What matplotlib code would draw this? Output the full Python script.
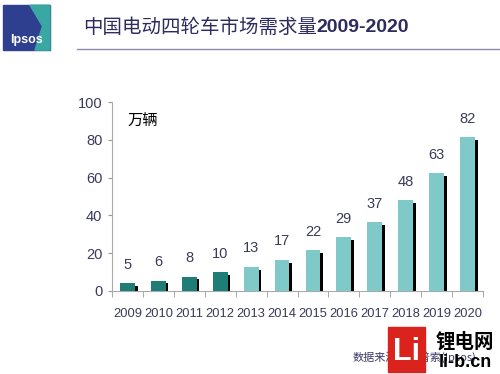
import numpy as np
import matplotlib.pyplot as plt
import matplotlib.patches as mpatches
from matplotlib import font_manager

# data
years = ['2009', '2010', '2011', '2012', '2013', '2014', '2015', '2016',
         '2017', '2018', '2019', '2020']
demand = [5, 6, 8, 10, 13, 17, 22, 29, 37, 48, 63, 82]
bar_heights = [4.2, 5.5, 7.6, 9.8, 12.8, 16.5, 21.5, 28.5, 36.5, 48, 62.5, 81.5]
yticks = [0, 20, 40, 60, 80, 100]

# pick a narrow font for the numbers if one is installed
installed = {f.name for f in font_manager.fontManager.ttflist}
num_font, num_size = 'Liberation Sans', 9.3
for name in ['Liberation Sans Narrow', 'DejaVu Sans Condensed']:
    if name in installed:
        num_font, num_size = name, 11
        break
plt.rcParams['font.family'] = [num_font, 'Noto Sans CJK SC']

dark_teal = '#1e7d76'
light_teal = '#7fcac9'
txt_col = '#3a3a5a'

fig = plt.figure(figsize=(5, 3.74), dpi=100)
ax = fig.add_axes([0.224, 0.222, 0.742, 0.505])

x = np.arange(len(years))
colors = [dark_teal if int(y) <= 2012 else light_teal for y in years]
shadow = [h - 1.5 for h in bar_heights]
ax.bar(x + 0.24, shadow, width=0.085, align='edge', color='black', zorder=2)
ax.bar(x, bar_heights, width=0.48, color=colors, zorder=3)

for xi, v, h in zip(x, demand, bar_heights):
    ax.text(xi, h + 6, str(v), ha='center', va='bottom', fontsize=10.5,
            color=txt_col)

ax.set_xlim(-0.5, 11.5)
ax.set_ylim(0, 100)
ax.set_yticks(yticks)
ax.set_yticklabels([str(t) for t in yticks], fontsize=10.5, color=txt_col)
ax.set_xticks(x)
ax.set_xticklabels(years, fontsize=num_size, color=txt_col)
ax.set_xticks(np.arange(-0.5, 12, 1), minor=True)
ax.tick_params(axis='x', which='major', length=0, pad=12)
ax.tick_params(axis='x', which='minor', length=4, color='#999999', direction='out')
ax.tick_params(axis='y', length=3, color='#999999', pad=4)
for s in ['top', 'right']:
    ax.spines[s].set_visible(False)
for s in ['left', 'bottom']:
    ax.spines[s].set_color('#aaaaaa')

ax.text(0.043, 0.9, '万辆', transform=ax.transAxes, fontsize=11,
        family=['Noto Sans CJK SC'], color='black', va='center')

# title and rule
fig.text(0.166, 0.927, '中国电动四轮车市场需求量', fontsize=14, color='#2c2c5e',
         family=['Noto Sans CJK SC'], va='center')
fig.text(0.632, 0.927, '2009-2020', fontsize=14, color='#2c2c5e',
         fontweight='bold', family=['Liberation Sans'], va='center')
fig.add_artist(plt.Line2D([0.154, 1.0], [0.869, 0.869], color='#8a8aa8', lw=1))

# Ipsos logo
fig.add_artist(mpatches.Rectangle((0.006, 0.866), 0.094, 0.12,
                                  color='#2f3f8f', transform=fig.transFigure))
fig.add_artist(mpatches.Polygon([[0.06, 0.986], [0.1, 0.986], [0.1, 0.866],
                                 [0.07, 0.866], [0.085, 0.93]],
                                color='#3aa8a2', transform=fig.transFigure))
fig.text(0.053, 0.893, 'Ipsos', fontsize=9, color='white', fontweight='bold',
         family=['Liberation Sans'], ha='center', va='center')

# source and watermark
fig.text(0.706, 0.045, '数据来源：益普索(Ipsos)', fontsize=8, color='#3a3a6a',
         family=['Noto Sans CJK SC'], va='center')
fig.add_artist(mpatches.Rectangle((0.776, 0.005), 0.074, 0.12,
                                  color='#d9231c', transform=fig.transFigure, zorder=5))
fig.text(0.813, 0.06, 'Li', fontsize=22, color='white', fontweight='bold',
         family=['Liberation Sans'], ha='center', va='center', zorder=6)
fig.text(0.93, 0.085, '锂电网', fontsize=14, color='black', fontweight='bold',
         family=['Noto Sans CJK SC'], ha='center', va='center', zorder=6)
fig.text(0.93, 0.03, 'li-b.cn', fontsize=13, color='black', fontweight='bold',
         family=['Liberation Sans'], ha='center', va='center', zorder=6)

fig.savefig('out.png', dpi=100)
